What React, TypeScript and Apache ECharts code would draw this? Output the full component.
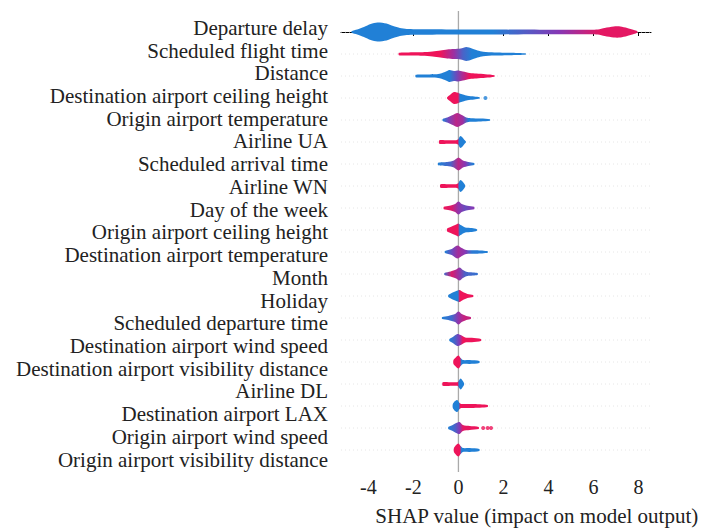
import React, { useEffect, useRef } from "react";
import * as echarts from "echarts";

const features = [
  "Departure delay",
  "Scheduled flight time",
  "Distance",
  "Destination airport ceiling height",
  "Origin airport temperature",
  "Airline UA",
  "Scheduled arrival time",
  "Airline WN",
  "Day of the week",
  "Origin airport ceiling height",
  "Destination airport temperature",
  "Month",
  "Holiday",
  "Scheduled departure time",
  "Destination airport wind speed",
  "Destination airport visibility distance",
  "Airline DL",
  "Destination airport LAX",
  "Origin airport wind speed",
  "Origin airport visibility distance",
];

// SHAP value knots of each violin outline
const shapeX: number[][] = [
  [-4.75, -4.5, -4.2, -3.9, -3.6, -3.2, -2.9, -2.6, -2.3, -1.5, 0, 2, 4, 5.5, 6.2, 6.5, 6.9, 7.2, 7.5, 7.8, 7.95],
  [-2.65, -2.4, -1.6, -1.15, -0.8, -0.5, -0.2, 0.1, 0.35, 0.6, 0.85, 1.1, 1.6, 2.3, 3.0],
  [-1.9, -1.5, -0.9, -0.6, -0.4, -0.2, 0, 0.2, 0.5, 0.8, 1.2, 1.6],
  [-0.5, -0.38, -0.2, -0.05, 0.05, 0.2, 0.4, 0.7, 0.95],
  [-0.7, -0.5, -0.25, -0.05, 0.15, 0.35, 0.55, 1.0, 1.4],
  [-0.85, -0.5, -0.1, 0, 0.08, 0.18, 0.27, 0.33],
  [-0.9, -0.5, -0.2, 0, 0.2, 0.45, 0.7],
  [-0.8, -0.4, -0.1, 0, 0.08, 0.18, 0.27, 0.3],
  [-0.65, -0.4, -0.15, 0, 0.15, 0.4, 0.7],
  [-0.5, -0.3, -0.1, 0, 0.1, 0.3, 0.6, 0.82],
  [-0.6, -0.3, -0.05, 0.15, 0.35, 0.8, 1.3],
  [-0.62, -0.35, -0.1, 0.05, 0.2, 0.4, 0.85],
  [-0.45, -0.3, -0.1, 0.05, 0.2, 0.4, 0.65],
  [-0.72, -0.45, -0.15, 0, 0.15, 0.35, 0.55],
  [-0.4, -0.25, -0.05, 0.1, 0.3, 0.6, 1.0],
  [-0.22, -0.1, 0, 0.1, 0.2, 0.5, 0.93],
  [-0.7, -0.3, -0.05, 0.02, 0.1, 0.18, 0.25],
  [-0.25, -0.15, -0.05, 0.05, 0.15, 0.6, 1.3],
  [-0.45, -0.3, -0.1, 0.05, 0.2, 0.5, 0.9],
  [-0.2, -0.1, 0, 0.1, 0.2, 0.5, 0.93],
];

// density (half thickness) at each knot
const shapeD: number[][] = [
  [0.8, 2.5, 5, 8, 9.5, 8.5, 6, 4, 3, 2.8, 2.6, 2.4, 2.2, 2.2, 2.5, 4, 5.5, 5.5, 4, 2, 0.8],
  [1.2, 1.6, 1.8, 2.5, 3.5, 4.5, 5, 5.5, 7, 5.5, 3.5, 2.2, 1.6, 1.3, 0.6],
  [1.2, 1.5, 2, 4, 6, 5, 5.5, 4.5, 3, 2.5, 1.8, 0.8],
  [0.8, 3, 6, 5.5, 4.5, 3.5, 2.2, 1.5, 0.6],
  [1, 2.5, 5, 7, 5, 2.5, 1.8, 1.5, 0.8],
  [1.8, 1.8, 1.8, 3, 6, 4.5, 2, 0.6],
  [1.2, 2, 3.5, 6.5, 3.5, 2, 1],
  [1.8, 1.8, 1.8, 3, 6, 4.5, 2, 0.6],
  [1.2, 2.2, 4, 6.5, 4, 2.2, 1.2],
  [1.5, 3.5, 5.5, 6.5, 5, 2.5, 2, 0.8],
  [1, 3, 6.5, 4, 2, 1.8, 0.8],
  [1, 2.5, 4.5, 6.5, 4, 2, 1],
  [1, 3, 5, 6, 4, 2, 1],
  [1, 2, 4, 6.5, 4, 2, 1],
  [1, 3, 6, 5, 2.5, 2.3, 1],
  [2, 5, 6.5, 4, 2, 2, 1],
  [1.8, 1.8, 1.8, 3.5, 5.5, 3.5, 0.8],
  [2, 5, 6, 3, 2, 2, 1],
  [1, 2.5, 5, 6, 3, 2, 1],
  [2, 5, 6.5, 4, 2, 2, 1],
];

// feature value colour (0 = low/blue, 1 = high/red) along each violin
const colorX: number[][] = [
  [-4.75, 1.5, 4.5, 6.3, 7.95],
  [-2.65, -0.8, -0.2, 0.2, 0.6, 3.0],
  [-1.9, -0.4, -0.1, 0.2, 0.5, 1.6],
  [-0.5, -0.02, 0.08, 0.95],
  [-0.7, -0.45, -0.1, 0.2, 0.45, 1.4],
  [-0.85, -0.03, 0.03, 0.33],
  [-0.9, -0.35, 0, 0.3, 0.55, 0.7],
  [-0.8, -0.03, 0.03, 0.3],
  [-0.65, -0.3, 0, 0.3, 0.7],
  [-0.5, -0.02, 0.06, 0.82],
  [-0.6, -0.25, 0, 0.3, 0.6, 1.3],
  [-0.62, -0.3, 0, 0.3, 0.85],
  [-0.45, -0.02, 0.06, 0.65],
  [-0.72, -0.3, 0, 0.25, 0.55],
  [-0.4, -0.15, 0.05, 0.2, 1.0],
  [-0.22, 0.06, 0.14, 0.93],
  [-0.7, -0.03, 0.02, 0.25],
  [-0.25, 0.02, 0.08, 1.3],
  [-0.45, -0.15, 0.05, 0.2, 0.9],
  [-0.2, 0.06, 0.14, 0.93],
];
const colorT: number[][] = [
  [0, 0, 0.5, 0.95, 0.95],
  [1, 1, 0.6, 0.2, 0, 0],
  [0, 0, 0.35, 0.7, 1, 1],
  [1, 1, 0, 0],
  [0, 0.4, 0.75, 0.6, 0, 0],
  [1, 1, 0, 0],
  [0, 0.2, 0.75, 0.5, 0.1, 0],
  [1, 1, 0, 0],
  [1, 0.9, 0.55, 0.35, 0.5],
  [1, 1, 0, 0],
  [0, 0.4, 0.65, 0.5, 0.05, 0],
  [0.2, 0.9, 0.6, 0.2, 0.1],
  [0, 0, 1, 1],
  [0, 0.15, 0.55, 0.8, 0.8],
  [0, 0.2, 0.5, 1, 1],
  [1, 1, 0, 0],
  [1, 1, 0, 0],
  [0, 0, 1, 1],
  [0, 0.2, 0.5, 0.95, 1],
  [1, 1, 0, 0],
];

// isolated outlier points
const dotX = [1.2, 1.1, 1.3, 1.45];
const dotRow = [3, 18, 18, 18];
const dotT = [0, 1, 1, 1];

const xTicks = [-4, -2, 0, 2, 4, 6, 8];
const axisTitle = "SHAP value (impact on model output)";

const BLUE = [33, 128, 214];
const PURPLE = [135, 55, 180];
const RED = [238, 20, 90];
function tColor(t: number): string {
  const a = t < 0.5 ? BLUE : PURPLE;
  const b = t < 0.5 ? PURPLE : RED;
  const f = t < 0.5 ? t / 0.5 : (t - 0.5) / 0.5;
  const c = a.map((v, i) => Math.round(v + (b[i] - v) * f));
  return `rgb(${c[0]},${c[1]},${c[2]})`;
}

const FONT = "Liberation Serif";

export default function App() {
  const ref = useRef<HTMLDivElement>(null);
  useEffect(() => {
    if (!ref.current) return;
    const chart = echarts.init(ref.current, null, { renderer: "svg" });
    const rows = features.map((_, i) => [0, i]);
    chart.setOption({
      animation: false,
      backgroundColor: "#fff",
      textStyle: { fontFamily: FONT },
      grid: [
        { left: 341, width: 310, top: 10, height: 462 },
        { left: 0, width: 341, top: 16.5, height: 454.4 },
      ],
      xAxis: [
        {
          gridIndex: 0,
          type: "value",
          min: -5.22,
          max: 8.56,
          axisLine: { show: true, lineStyle: { color: "#000", width: 1 } },
          axisTick: { show: true, length: 4, lineStyle: { color: "#000" }, customValues: xTicks },
          axisLabel: {
            show: true,
            customValues: xTicks,
            fontFamily: FONT,
            fontSize: 20,
            color: "#222",
            margin: 5,
            formatter: (v: number) => String(v),
          },
          splitLine: { show: false },
        },
        { gridIndex: 1, type: "value", show: false },
      ],
      yAxis: [
        {
          gridIndex: 0,
          type: "value",
          inverse: true,
          min: -1,
          max: 20,
          show: false,
          splitLine: { show: false },
        },
        {
          gridIndex: 1,
          type: "category",
          inverse: true,
          data: features,
          axisLine: { show: false },
          axisTick: { show: false },
          axisLabel: { interval: 0, margin: 13, fontFamily: FONT, fontSize: 21, color: "#222" },
        },
      ],
      series: [
        {
          type: "custom",
          xAxisIndex: 0,
          yAxisIndex: 0,
          z: 1,
          silent: true,
          data: rows,
          renderItem: (params: any, api: any) => {
            const row = api.value(1);
            const p = api.coord([0, row]);
            const cs = params.coordSys;
            const children: any[] = [
              {
                type: "line",
                shape: { x1: cs.x, y1: p[1], x2: cs.x + cs.width, y2: p[1] },
                style: { stroke: "#e6e6e6", lineWidth: 1, lineDash: [1, 3] },
              },
            ];
            if (row === 0) {
              const t = api.coord([0, -1]);
              const b = api.coord([0, 20]);
              children.push({
                type: "line",
                shape: { x1: t[0], y1: t[1] + 1, x2: b[0], y2: b[1] },
                style: { stroke: "#aaaaaa", lineWidth: 1.3 },
              });
            }
            return { type: "group", children };
          },
        },
        {
          type: "custom",
          xAxisIndex: 0,
          yAxisIndex: 0,
          z: 3,
          silent: true,
          data: rows,
          renderItem: (_params: any, api: any) => {
            const row = api.value(1);
            const xs = shapeX[row];
            const ds = shapeD[row];
            const band = api.size([0, 1])[1];
            const upper: number[][] = [];
            const lower: number[][] = [];
            xs.forEach((x, i) => {
              const p = api.coord([x, row]);
              const h = (ds[i] / 22) * band;
              upper.push([p[0], p[1] - h]);
              lower.push([p[0], p[1] + h]);
            });
            const pts = upper.concat(lower.reverse());
            const cx = colorX[row];
            const ct = colorT[row];
            const c0 = cx[0];
            const c1 = cx[cx.length - 1];
            const x0 = api.coord([c0, row])[0];
            const x1 = api.coord([c1, row])[0];
            const stops = cx.map((v, i) => ({ offset: (v - c0) / (c1 - c0), color: tColor(ct[i]) }));
            return {
              type: "polygon",
              shape: { points: pts, smooth: 0.25 },
              style: { fill: new echarts.graphic.LinearGradient(x0, 0, x1, 0, stops, true) },
            };
          },
        },
        {
          type: "scatter",
          xAxisIndex: 0,
          yAxisIndex: 0,
          z: 3,
          silent: true,
          symbolSize: 4,
          data: dotX.map((x, i) => [x, dotRow[i], dotT[i]]),
          itemStyle: { color: (p: any) => tColor(p.data[2]) },
        },
      ],
      graphic: [
        {
          type: "text",
          right: 4,
          top: 505,
          style: { text: axisTitle, font: `21px ${FONT}`, fill: "#222" },
        },
      ],
    });
    return () => chart.dispose();
  }, []);
  return <div ref={ref} style={{ position: "fixed", left: 0, top: 0, width: 703, height: 528 }} />;
}
